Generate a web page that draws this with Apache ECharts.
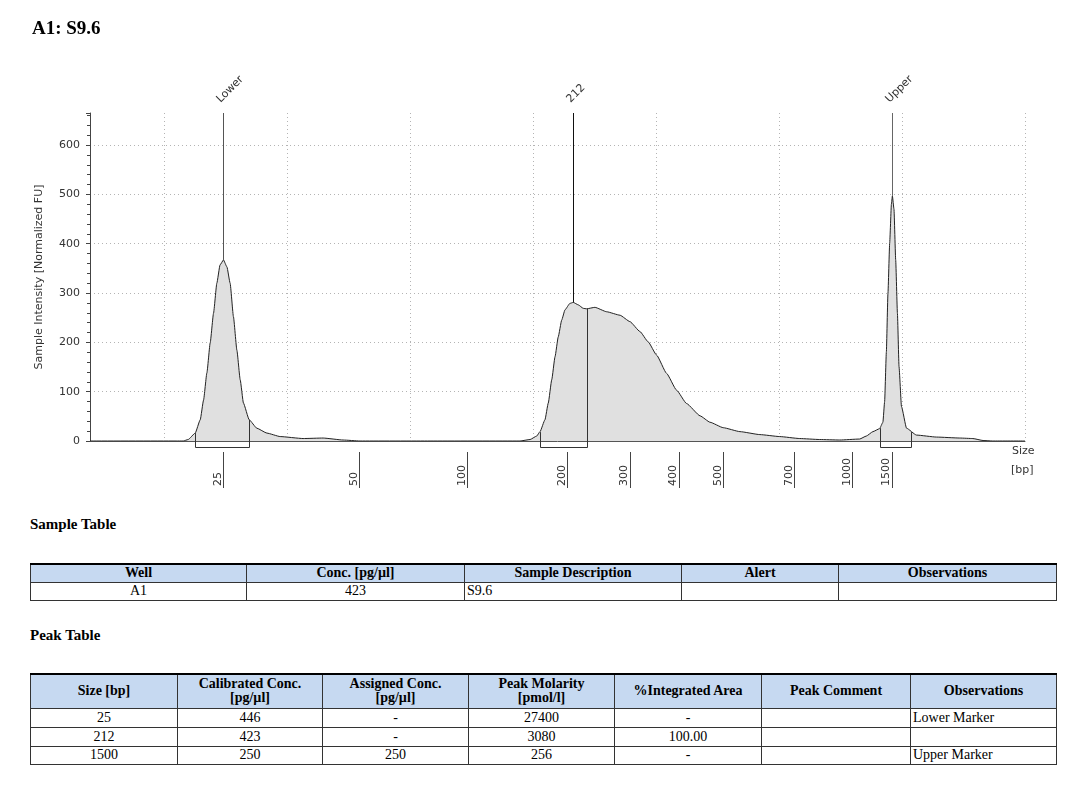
<!DOCTYPE html>
<html>
<head>
<meta charset="utf-8">
<script src="https://cdn.jsdelivr.net/npm/echarts@6/dist/echarts.min.js"></script>
<style>
  html, body { margin: 0; padding: 0; background: #fff; }
  #chart { position: absolute; left: 0; top: 0; width: 1090px; height: 500px; }
  .sec { position: absolute; left: 30px; font: bold 15px 'Liberation Serif', serif; color: #000; }
  table { position: absolute; left: 30px; border-collapse: collapse; table-layout: fixed;
          font-family: 'Liberation Serif', serif; font-size: 14px; color: #000; }
  th, td { border: 1px solid #333; padding: 0 2px; text-align: center; overflow: hidden; white-space: nowrap; }
  th { background: #c6d9f1; font-weight: bold; font-size: 14px; line-height: 14px; }
  tr.hd th { border-top: 2px solid #000; }
  td.l { text-align: left; }
</style>
</head>
<body>
<div id="chart"></div>

<div class="sec" style="top:516px">Sample Table</div>
<table style="top:563px; width:1026px">
  <colgroup><col style="width:216px"><col style="width:218px"><col style="width:217px"><col style="width:157px"><col style="width:218px"></colgroup>
  <tr class="hd" style="height:18px"><th>Well</th><th>Conc. [pg/µl]</th><th>Sample Description</th><th>Alert</th><th>Observations</th></tr>
  <tr style="height:18px"><td>A1</td><td>423</td><td class="l">S9.6</td><td></td><td></td></tr>
</table>

<div class="sec" style="top:627px">Peak Table</div>
<table style="top:673px; width:1026px">
  <colgroup><col style="width:147px"><col style="width:145px"><col style="width:146px"><col style="width:146px"><col style="width:147px"><col style="width:149px"><col style="width:146px"></colgroup>
  <tr class="hd" style="height:34px"><th>Size [bp]</th><th>Calibrated Conc.<br>[pg/µl]</th><th>Assigned Conc.<br>[pg/µl]</th><th>Peak Molarity<br>[pmol/l]</th><th>%Integrated Area</th><th>Peak Comment</th><th>Observations</th></tr>
  <tr style="height:19px"><td>25</td><td>446</td><td>-</td><td>27400</td><td>-</td><td></td><td class="l">Lower Marker</td></tr>
  <tr style="height:19px"><td>212</td><td>423</td><td>-</td><td>3080</td><td>100.00</td><td></td><td class="l"></td></tr>
  <tr style="height:18px"><td>1500</td><td>250</td><td>250</td><td>256</td><td>-</td><td></td><td class="l">Upper Marker</td></tr>
</table>

<script>
// migration position (arbitrary run units) vs. normalized intensity
var migration = [-6, 1.0, 1.58, 1.98, 2.55, 2.96, 3.23, 3.50, 3.77, 4.04, 4.31, 4.57, 4.85, 5.13, 5.39, 5.66, 5.94,
  6.21, 6.47, 6.94, 7.56, 8.38, 9.46, 11.32, 12.95, 14.57, 15.95, 21.64, 28.95,
  29.77, 30.31, 30.58, 30.98, 31.25, 31.53, 31.80, 32.06, 32.34, 32.61, 33.01, 33.28, 33.69, 34.09, 34.37,
  35.04, 36.00, 37.08, 37.89, 38.70, 39.37, 40.06, 40.87, 41.68, 42.49, 43.59, 44.40, 45.47, 46.83,
  48.45, 50.06, 51.69, 53.31, 54.94, 56.56, 57.10, 57.64, 58.18, 58.45, 58.59, 58.73, 58.86, 59.00,
  59.14, 59.22, 59.35, 59.49, 59.63, 59.76, 59.96, 60.37, 61.18, 62.80, 64.70, 65.76, 66.59, 67.38, 70];
var intensity = [0, 0, 0, 3, 16, 43, 83, 138, 199, 259, 320, 357, 367, 353, 320, 252, 184,
  124, 77, 43, 26, 16, 9, 5, 6, 2, 0, 0, 0,
  3, 10, 19, 43, 77, 124, 171, 211, 245, 266, 279, 281, 276, 269, 268,
  271, 262, 255, 242, 222, 201, 174, 137, 103, 76, 51, 38, 27, 19,
  13, 9, 5, 3, 2, 4, 10, 19, 25, 38, 80, 180, 299, 401,
  480, 497, 470, 367, 259, 151, 70, 26, 12, 8, 6, 5, 1, 0, 0];

// ladder: size labels and their migration positions
var ladderSizes = [25, 50, 100, 200, 300, 400, 500, 700, 1000, 1500];
var ladderPos = [4.85, 15.90, 24.70, 32.79, 37.89, 41.87, 45.47, 51.24, 55.98, 59.20];

// called peaks
var peakLabels = ['Lower', '212', 'Upper'];
var peakPos = [4.85, 33.28, 59.20];
var peakVals = [367, 281, 497];
var peakColors = ['#555', '#111', '#666'];

// integration regions
var regionStart = [2.55, 30.56, 58.25];
var regionEnd = [6.94, 34.37, 60.76];
var regionStartVal = [16, 18, 26];
var regionEndVal = [43, 268, 18];

var X_MIN = -6, X_MAX = 70, Y_MAX = 665;
var axisFont = 'DejaVu Sans';

var chart = echarts.init(document.getElementById('chart'));

chart.setOption({
  animation: false,
  title: {
    text: 'A1: S9.6', left: 27, top: 15,
    textStyle: { fontFamily: 'Liberation Serif', fontSize: 19, fontWeight: 'bold', color: '#000' }
  },
  grid: { left: 90, right: 65, top: 113, bottom: 59 },
  xAxis: [{
    type: 'value', min: X_MIN, max: X_MAX, splitNumber: 8, minInterval: 10, maxInterval: 10,
    axisLine: { show: true, onZero: false, lineStyle: { color: '#555', width: 1 } },
    axisTick: { show: false }, axisLabel: { show: false },
    splitLine: { show: true, showMinLine: false, lineStyle: { color: '#b4b4b4', type: [1, 3] } }
  }, {
    type: 'value', min: X_MIN, max: X_MAX, position: 'bottom', offset: 47,
    axisLine: { show: false, onZero: false },
    axisTick: { show: true, inside: true, length: 36, customValues: ladderPos, lineStyle: { color: '#444' } },
    axisLabel: {
      show: true, customValues: ladderPos, rotate: 90, margin: -2,
      align: 'left', verticalAlign: 'bottom',
      fontFamily: axisFont, fontSize: 11, color: '#333',
      formatter: function (v) {
        var best = 0;
        for (var i = 1; i < ladderPos.length; i++) {
          if (Math.abs(ladderPos[i] - v) < Math.abs(ladderPos[best] - v)) best = i;
        }
        return String(ladderSizes[best]);
      }
    },
    splitLine: { show: false }
  }],
  yAxis: {
    type: 'value', min: 0, max: Y_MAX, interval: 100,
    name: 'Sample Intensity [Normalized FU]', nameLocation: 'middle', nameGap: 45,
    nameTextStyle: { fontFamily: axisFont, fontSize: 11, color: '#333' },
    axisLine: { show: true, onZero: false, lineStyle: { color: '#444' } },
    axisTick: { show: true, length: 4, lineStyle: { color: '#444' } },
    minorTick: { show: true, splitNumber: 5, length: 3, lineStyle: { color: '#444' } },
    axisLabel: { fontFamily: axisFont, fontSize: 11, color: '#333', margin: 10, showMaxLabel: false },
    splitLine: { show: true, showMinLine: false, showMaxLine: false, lineStyle: { color: '#b4b4b4', type: [1, 3] } }
  },
  graphic: [
    { type: 'text', left: 1012, top: 446, style: { text: 'Size', font: '11px DejaVu Sans', fill: '#333' } },
    { type: 'text', left: 1011, top: 465, style: { text: '[bp]', font: '11px DejaVu Sans', fill: '#333' } }
  ],
  series: [{
    type: 'line',
    z: 2,
    data: migration.map(function (m, i) { return [m, intensity[i]]; }),
    showSymbol: false, smooth: 0.15, smoothMonotone: 'x',
    lineStyle: { color: '#222', width: 1 },
    areaStyle: { color: '#e0e0e0', opacity: 1 }
  }, {
    type: 'custom',
    z: 5,
    clip: false,
    data: regionStart.map(function (s, i) { return [s, regionEnd[i], regionStartVal[i], regionEndVal[i]]; }),
    renderItem: function (params, api) {
      var a = api.coord([api.value(0), api.value(2)]);
      var b = api.coord([api.value(1), api.value(3)]);
      var base = Math.round(api.coord([api.value(0), 0])[1]) + 6.5;
      var ax = Math.round(a[0]) + 0.5, bx = Math.round(b[0]) + 0.5;
      return {
        type: 'polyline',
        z2: 10,
        shape: { points: [[ax, a[1]], [ax, base], [bx, base], [bx, b[1]]] },
        style: { stroke: '#333', fill: null, lineWidth: 1 }
      };
    }
  }, {
    type: 'custom',
    z: 5,
    clip: false,
    data: peakPos.map(function (p, i) { return [p, peakVals[i]]; }),
    renderItem: function (params, api) {
      var p = api.coord([api.value(0), api.value(1)]);
      var top = api.coord([api.value(0), Y_MAX])[1];
      var x = Math.round(p[0]) + 0.5;
      return {
        type: 'group',
        children: [{
          type: 'line',
          shape: { x1: x, y1: top, x2: x, y2: p[1] },
          style: { stroke: peakColors[params.dataIndex], lineWidth: 1 }
        }, {
          type: 'text', x: x - 5, y: top - 12, rotation: Math.PI / 4,
          style: { text: peakLabels[params.dataIndex], x: 0, y: 0, align: 'left', verticalAlign: 'middle',
                   font: '11px DejaVu Sans', fill: '#333' }
        }]
      };
    }
  }]
});
</script>
</body>
</html>
